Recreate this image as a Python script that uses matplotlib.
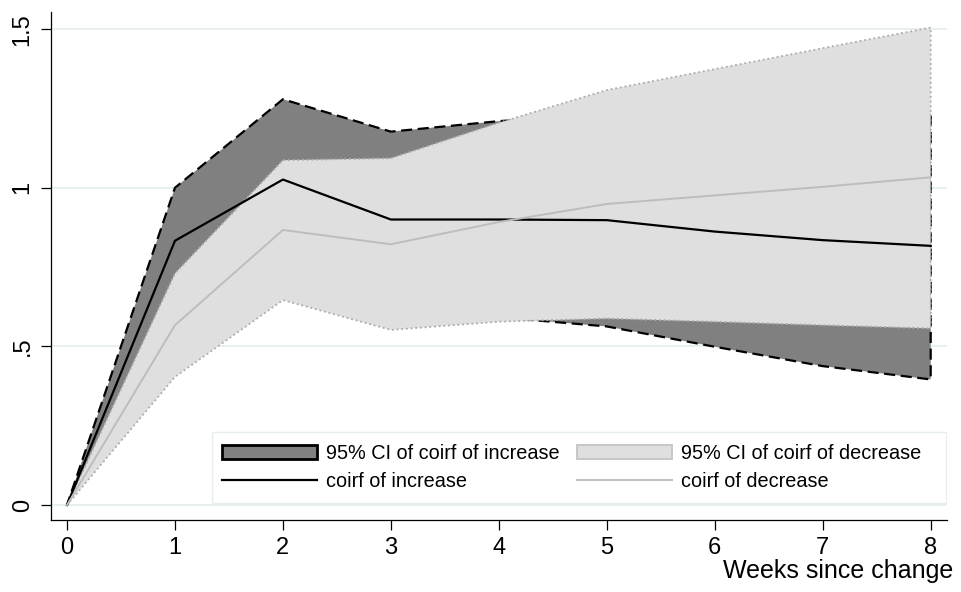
import matplotlib
matplotlib.use("Agg")
import matplotlib.pyplot as plt
from matplotlib.patches import Patch, Rectangle
from matplotlib.lines import Line2D

plt.rcParams['font.family'] = ['Liberation Sans', 'DejaVu Sans']

# Cumulative orthogonalized IRFs by week since the change
weeks = [0, 1, 2, 3, 4, 5, 6, 7, 8]
inc_coef = [0, 0.833, 1.026, 0.900, 0.900, 0.898, 0.862, 0.835, 0.817]
inc_lo = [0, 0.666, 0.773, 0.623, 0.592, 0.563, 0.499, 0.438, 0.396]
inc_hi = [0, 1.000, 1.279, 1.177, 1.210, 1.233, 1.225, 1.232, 1.238]
dec_coef = [0, 0.567, 0.867, 0.822, 0.892, 0.949, 0.976, 1.003, 1.033]
dec_lo = [0, 0.404, 0.646, 0.552, 0.578, 0.588, 0.578, 0.567, 0.557]
dec_hi = [0, 0.730, 1.087, 1.093, 1.205, 1.308, 1.374, 1.440, 1.505]

y_ticks = [0, 0.5, 1, 1.5]
y_ticklabels = ["0", ".5", "1", "1.5"]
label_inc_ci = "95% CI of coirf of increase"
label_dec_ci = "95% CI of coirf of decrease"
label_inc = "coirf of increase"
label_dec = "coirf of decrease"

W, H = 961, 592
fig = plt.figure(figsize=(W / 100, H / 100), dpi=100)
ax_l, ax_r, ax_t, ax_b = 51, 947, 12, 520
ax = fig.add_axes([ax_l / W, (H - ax_b) / H, (ax_r - ax_l) / W, (ax_b - ax_t) / H])


def axes_xy(px, py):
    """Pixel position in the figure -> axes fraction."""
    return (px - ax_l) / (ax_r - ax_l), (ax_b - py) / (ax_b - ax_t)


grid_c = "#e6eef0"
for yv in y_ticks:
    ax.axhline(yv, color=grid_c, lw=1.3, zorder=0)

ax.fill_between(weeks, inc_lo, inc_hi, facecolor="#808080", edgecolor="black",
                linewidth=1.6, linestyle=(0, (5, 2.5)), zorder=2)
ax.fill_between(weeks, dec_lo, dec_hi, facecolor="#dfdfdf", edgecolor="#ababab",
                linewidth=1.3, linestyle=(0, (1, 1.6)), zorder=3)
ax.plot(weeks, inc_coef, color="black", lw=1.6, zorder=4)
ax.plot(weeks, dec_coef, color="#bdbdbd", lw=1.4, zorder=5)

ax.set_xlim(-0.148, 8.151)
ax.set_ylim(-0.047, 1.554)
ax.set_xticks(weeks)
ax.set_yticks(y_ticks)
ax.set_yticklabels(y_ticklabels, rotation=90, va="center")
ax.tick_params(axis="both", length=7.5, width=0.9, labelsize=17, color="black")
ax.tick_params(axis="x", pad=5)
ax.tick_params(axis="y", pad=5)
for s in ["top", "right"]:
    ax.spines[s].set_visible(False)
for s in ["left", "bottom"]:
    ax.spines[s].set_linewidth(0.9)

fig.text(953 / W, 1 - 578 / H, "Weeks since change", ha="right",
         va="baseline", fontsize=18)

# legend box
x0, y0 = axes_xy(212, 503)
x1, y1 = axes_xy(946, 432)
ax.add_patch(Rectangle((x0, y0), x1 - x0, y1 - y0, transform=ax.transAxes,
                       facecolor="white", edgecolor=grid_c, lw=1.0, zorder=6))

# legend filled column by column: increase entries left, decrease entries right
handles = [
    Patch(facecolor="#808080", edgecolor="black", linewidth=2.0),
    Line2D([], [], color="black", lw=1.6),
    Patch(facecolor="#dfdfdf", edgecolor="#c4c4c4", linewidth=1.3),
    Line2D([], [], color="#bdbdbd", lw=1.4),
]
labels = [label_inc_ci, label_inc, label_dec_ci, label_dec]
leg = ax.legend(handles, labels, ncol=2, loc="center left",
                bbox_to_anchor=axes_xy(222, 467.5),
                fontsize=14.3, handlelength=4.8, handletextpad=0.45,
                labelspacing=0.42, borderpad=0, columnspacing=0.85,
                frameon=False, borderaxespad=0)
leg.set_zorder(7)

fig.savefig("out.png", dpi=100)
